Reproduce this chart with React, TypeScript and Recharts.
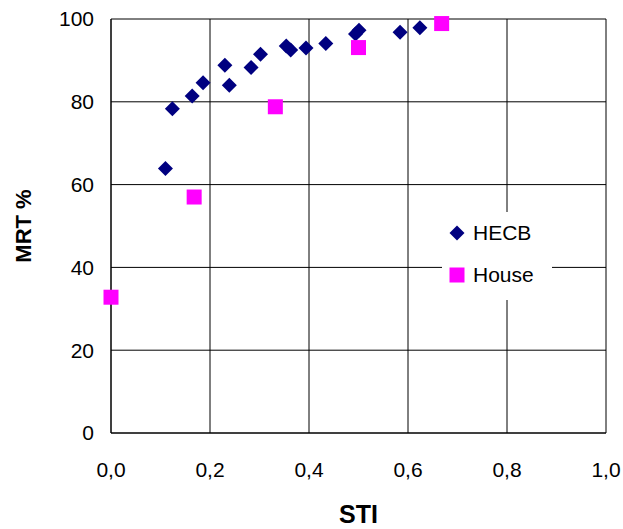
import React from "react";
import {
  ScatterChart,
  Scatter,
  XAxis,
  YAxis,
  CartesianGrid,
  Label,
} from "recharts";

const hecbSTI = [0.11, 0.124, 0.164, 0.186, 0.23, 0.239, 0.283, 0.302, 0.354, 0.363, 0.394, 0.434, 0.494, 0.501, 0.584, 0.624];
const hecbMRT = [63.9, 78.3, 81.4, 84.6, 88.8, 84.0, 88.3, 91.5, 93.5, 92.5, 93.0, 94.1, 96.4, 97.3, 96.8, 97.9];
const houseSTI = [0.0, 0.168, 0.332, 0.5, 0.668];
const houseMRT = [32.8, 57.0, 78.8, 93.1, 98.9];

const xTicks = [0, 0.2, 0.4, 0.6, 0.8, 1.0];
const yTicks = [0, 20, 40, 60, 80, 100];

const hecbData = hecbSTI.map((x, i) => ({ x, y: hecbMRT[i] }));
const houseData = houseSTI.map((x, i) => ({ x, y: houseMRT[i] }));

const NAVY = "#000080";
const MAGENTA = "#FF00FF";
const FONT = "'Liberation Sans', Arial, sans-serif";

const Diamond = (props: any) => {
  const { cx, cy } = props;
  const r = 7.5;
  return (
    <path
      d={`M${cx},${cy - r} L${cx + r},${cy} L${cx},${cy + r} L${cx - r},${cy} Z`}
      fill={NAVY}
    />
  );
};

const Square = (props: any) => {
  const { cx, cy } = props;
  const s = 15;
  return <rect x={cx - s / 2} y={cy - s / 2} width={s} height={s} fill={MAGENTA} />;
};

const LegendBox = () => (
  <div style={{ position: "absolute", left: 442, top: 212, width: 110, height: 88, background: "#fff" }}>
    <svg width={110} height={88} style={{ display: "block" }}>
      <path d="M15,13.5 L22.5,21 L15,28.5 L7.5,21 Z" fill={NAVY} />
      <rect x={7.5} y={55.5} width={15} height={15} fill={MAGENTA} />
      <text x={31} y={21} dy="0.355em" fontSize={21} fontFamily={FONT} fill="#000">HECB</text>
      <text x={31} y={63} dy="0.355em" fontSize={21} fontFamily={FONT} fill="#000">House</text>
    </svg>
  </div>
);

export default function App() {
  return (
    <div style={{ position: "absolute", left: 0, top: 0, width: 623, height: 529, background: "#fff" }}>
      <ScatterChart
        width={623}
        height={529}
        margin={{ top: 19, right: 17, left: 0, bottom: 0 }}
        style={{ fontFamily: FONT }}
      >
        <CartesianGrid stroke="#000" strokeWidth={1} />
        <XAxis
          type="number"
          dataKey="x"
          domain={[0, 1]}
          ticks={xTicks}
          tickFormatter={(v: number) => v.toFixed(1).replace(".", ",")}
          tickLine={false}
          tickSize={0}
          tickMargin={29}
          axisLine={{ stroke: "#000" }}
          height={96}
          tick={{ fill: "#000", fontSize: 21, fontFamily: FONT }}
          interval={0}
        >
          <Label
            value="STI"
            position="insideBottom"
            offset={6}
            style={{ fontWeight: "bold", fontSize: 25, fill: "#000", fontFamily: FONT }}
          />
        </XAxis>
        <YAxis
          type="number"
          dataKey="y"
          domain={[0, 100]}
          ticks={yTicks}
          tickLine={false}
          tickSize={0}
          tickMargin={17}
          axisLine={{ stroke: "#000" }}
          width={111}
          tick={{ fill: "#000", fontSize: 21, fontFamily: FONT }}
          interval={0}
        >
          <Label
            value="MRT %"
            angle={-90}
            position="insideLeft"
            offset={23}
            style={{ fontWeight: "bold", fontSize: 22, fill: "#000", fontFamily: FONT, textAnchor: "middle" }}
          />
        </YAxis>
        <Scatter name="HECB" data={hecbData} shape={Diamond} isAnimationActive={false} />
        <Scatter name="House" data={houseData} shape={Square} isAnimationActive={false} />
      </ScatterChart>
      <LegendBox />
    </div>
  );
}
